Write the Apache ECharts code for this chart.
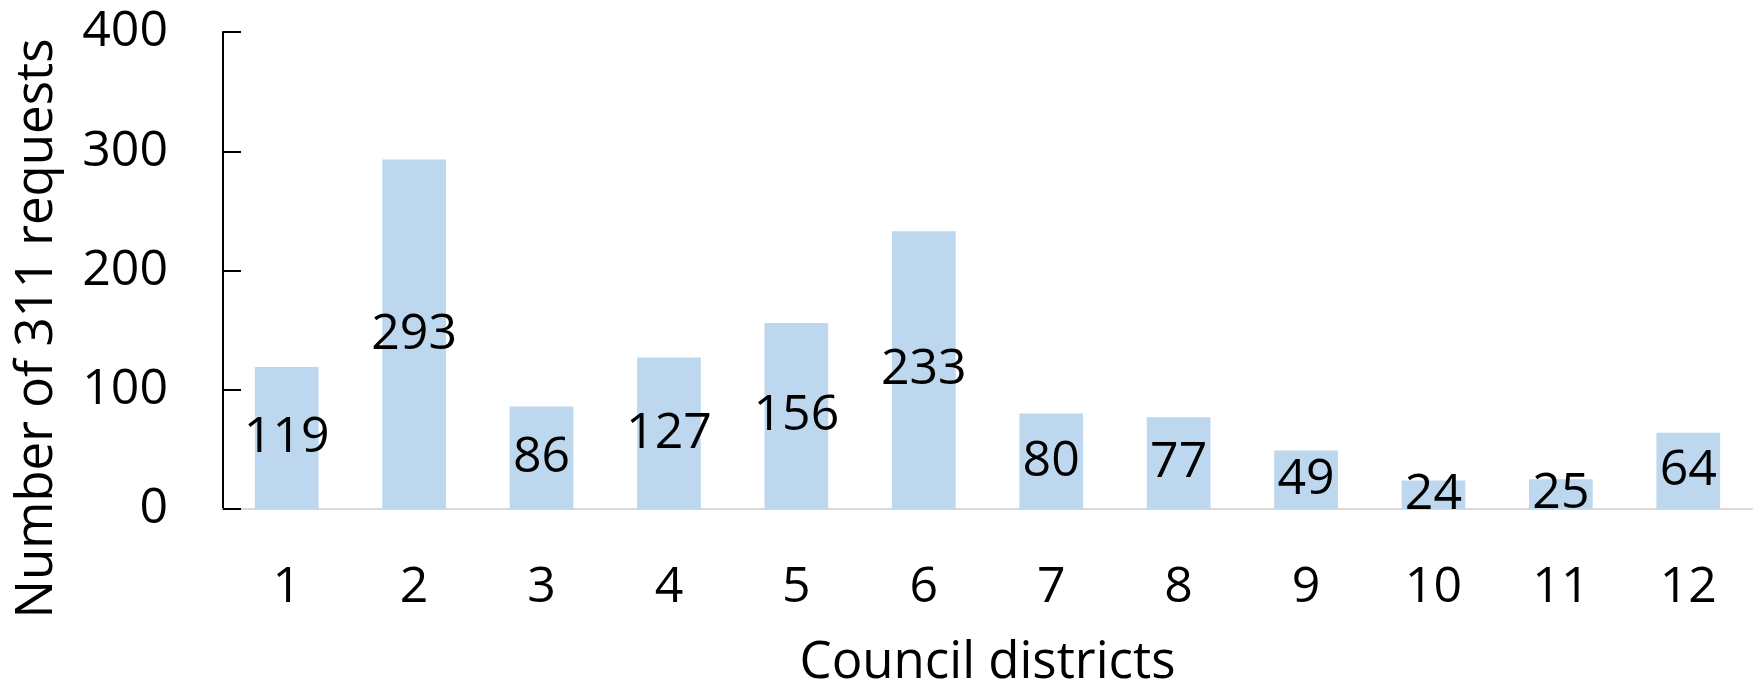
<!DOCTYPE html>
<html>
<head>
<meta charset="utf-8">
<script src="https://cdn.jsdelivr.net/npm/echarts@6/dist/echarts.min.js"></script>
<style>
    html, body { margin: 0; padding: 0; background: #fff; }
    #chart_con { width: 1756px; height: 689px; }
</style>
</head>
<body>
<div id="chart_con"></div>
<script>
    // council districts and request counts
    var districts = ['1', '2', '3', '4', '5', '6', '7', '8', '9', '10', '11', '12'];
    var requests = [119, 293, 86, 127, 156, 233, 80, 77, 49, 24, 25, 64];
    var yTicks = [0, 100, 200, 300, 400];

    var font = '"Open Sans", "Noto Sans", sans-serif';

    var option = {
        animation: false,
        backgroundColor: '#ffffff',
        grid: {
            left: 223,
            right: 4,
            top: 32,
            bottom: 180,
            containLabel: false,
            outerBoundsMode: 'none'
        },
        xAxis: {
            type: 'category',
            data: districts,
            name: 'Council districts',
            nameLocation: 'middle',
            nameGap: 129,
            nameTextStyle: { color: '#000', fontSize: 51, fontFamily: font },
            axisLine: { show: true, lineStyle: { color: '#d9d9d9', width: 2 } },
            axisTick: { show: false },
            axisLabel: { color: '#000', fontSize: 50, fontFamily: font, margin: 54 }
        },
        yAxis: {
            type: 'value',
            min: yTicks[0],
            max: yTicks[yTicks.length - 1],
            interval: 100,
            name: 'Number of 311 requests',
            nameLocation: 'middle',
            nameGap: 160,
            nameTextStyle: { color: '#000', fontSize: 51, fontFamily: font, padding: [0, 116, 0, 0] },
            axisLine: { show: true, lineStyle: { color: '#000', width: 2 } },
            axisTick: { show: true, inside: true, length: 18, lineStyle: { color: '#000', width: 2 } },
            axisLabel: { color: '#000', fontSize: 50, fontFamily: font, margin: 55 },
            splitLine: { show: false }
        },
        series: [{
            type: 'bar',
            data: requests,
            barWidth: '50%',
            itemStyle: { color: '#bdd7ee' },
            label: {
                show: true,
                position: 'inside',
                color: '#000',
                fontSize: 50,
                fontFamily: font
            }
        }]
    };

    var chart = echarts.init(document.getElementById('chart_con'));
    chart.setOption(option);
    window.addEventListener('resize', function () {
        chart.resize();
    });
</script>
</body>
</html>
